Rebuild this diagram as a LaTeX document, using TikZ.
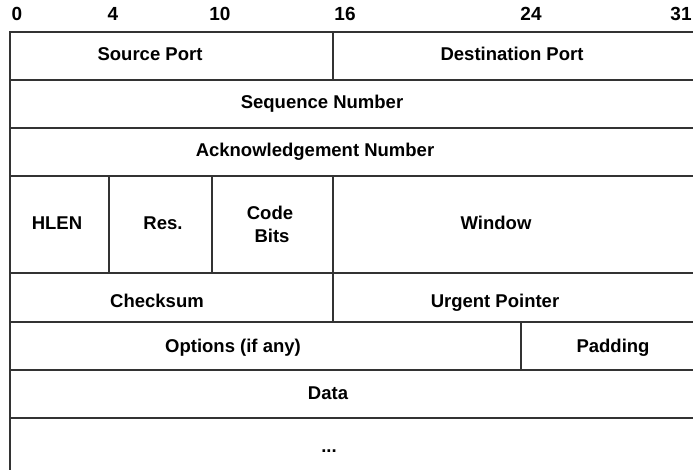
\documentclass[tikz,border=0pt]{standalone}
\usepackage{fontspec}
\setmainfont{Liberation Sans}
\begin{document}
\begin{tikzpicture}[x=1pt,y=-1pt,
  gridline/.style={draw=black!80, line width=1.1pt},
  lbl/.style={font=\fontsize{18.5}{20}\selectfont\bfseries, anchor=base, inner sep=0pt},
  num/.style={font=\fontsize{19}{21}\selectfont\bfseries, anchor=base, inner sep=0pt}]
\useasboundingbox (0,0) rectangle (693,470);
\fill[white] (0,0) rectangle (693,470);
% header bit numbers
\node[num] (b0)  at (17,21)  {0};
\node[num] (b4)  at (113,21) {4};
\node[num] (b10) at (220,21) {10};
\node[num] (b16) at (345,21) {16};
\node[num] (b24) at (531,21) {24};
\node[num] (b31) at (681,21) {31};
% grid
\draw[gridline] (693,32) -- (10,32) -- (10,470);
\foreach \yy in {80,128,176,273,322,370,418}
  \draw[gridline] (10,\yy) -- (693,\yy);
\draw[gridline] (333,32) -- (333,80);
\draw[gridline] (109,176) -- (109,273);
\draw[gridline] (212,176) -- (212,273);
\draw[gridline] (333,176) -- (333,322);
\draw[gridline] (521,322) -- (521,370);
% labels
\node[lbl] (src)  at (150,61)  {Source Port};
\node[lbl] (dst)  at (512,61)  {Destination Port};
\node[lbl] (seq)  at (322,109) {Sequence Number};
\node[lbl] (ack)  at (315,157) {Acknowledgement Number};
\node[lbl] (hlen) at (57,230)  {HLEN};
\node[lbl] (res)  at (163,230) {Res.};
\node[lbl] (codeA) at (270,220) {Code};
\node[lbl] (codeB) at (272,243) {Bits};
\node[lbl] (win)  at (496,230) {Window};
\node[lbl] (chk)  at (157,307) {Checksum};
\node[lbl] (urg)  at (495,307) {Urgent Pointer};
\node[lbl] (opt)  at (233,352) {Options (if any)};
\node[lbl] (pad)  at (613,352) {Padding};
\node[lbl] (data) at (328,399) {Data};
\node[lbl] (dots) at (329,452) {...};
\end{tikzpicture}
\end{document}
